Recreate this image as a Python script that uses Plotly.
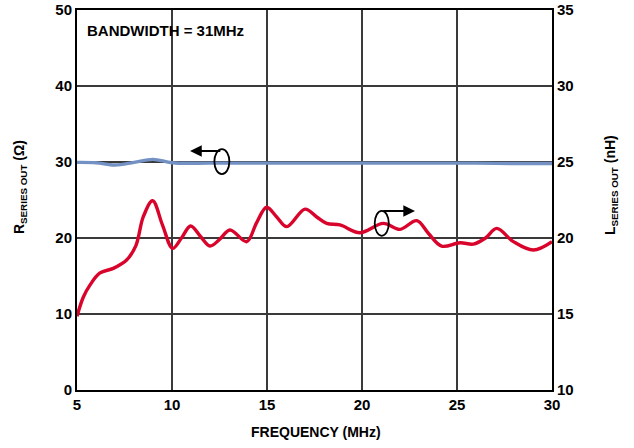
import plotly.graph_objects as go

# R_SERIES OUT (ohm), left axis
freq_r = [5, 6, 7, 8, 9, 10, 12, 14, 16, 18, 20, 22, 24, 26, 28, 30]
r_out = [29.95, 29.9, 29.6, 29.95, 30.35, 29.9, 29.85, 29.85, 29.85, 29.85,
         29.85, 29.85, 29.85, 29.85, 29.8, 29.8]

# L_SERIES OUT (nH), right axis
freq_l = [5.0, 5.33, 5.68, 6.21, 6.91, 7.61, 8.1, 8.49, 8.98, 9.5, 10.03, 10.5,
          10.98, 11.5, 12.0, 12.5, 13.05, 13.93, 14.45, 14.98, 15.5, 16.04, 17.0,
          17.6, 18.14, 18.84, 19.89, 21.12, 22.0, 22.88, 23.5, 24.19, 25.16,
          25.86, 26.5, 27.09, 27.97, 29.02, 30.0]
l_out = [14.85, 16.1, 16.9, 17.7, 18.0, 18.55, 19.5, 21.4, 22.45, 20.85, 19.32, 20.0,
         20.79, 20.1, 19.47, 19.9, 20.53, 19.76, 21.0, 22.02, 21.4, 20.75, 21.9,
         21.4, 20.96, 20.86, 20.35, 20.96, 20.57, 21.14, 20.3, 19.47, 19.69,
         19.6, 20.0, 20.63, 19.76, 19.21, 19.76]

x_ticks = [5, 10, 15, 20, 25, 30]
r_ticks = [0, 10, 20, 30, 40, 50]
l_ticks = [10, 15, 20, 25, 30, 35]

FONT = "Arial, Liberation Sans, sans-serif"
tick_font = dict(family=FONT, size=15, color="black", weight="bold")
title_font = dict(family=FONT, size=14, color="black", weight="bold")

fig = go.Figure()
fig.add_trace(go.Scatter(x=freq_r, y=r_out, mode="lines", yaxis="y",
                         line=dict(color="#7391c2", width=3.4, shape="spline"),
                         showlegend=False))
fig.add_trace(go.Scatter(x=freq_l, y=l_out, mode="lines", yaxis="y2",
                         line=dict(color="#d9042b", width=3.4, shape="spline"),
                         showlegend=False))

axis_common = dict(showgrid=True, gridcolor="#3a3a3a", gridwidth=1.5,
                   showline=True, linecolor="black", linewidth=2,
                   ticks="", zeroline=False, automargin=False,
                   ticklabeloverflow="allow", tickfont=tick_font)

fig.update_layout(
    width=634, height=448,
    margin=dict(l=77, r=82, t=10, b=58),
    plot_bgcolor="white", paper_bgcolor="white",
    xaxis=dict(range=[5, 30], tickvals=x_ticks, mirror=True, **axis_common),
    yaxis=dict(range=[0, 50], tickvals=r_ticks, **axis_common),
    yaxis2=dict(range=[10, 35], tickvals=l_ticks, overlaying="y", side="right",
                **{**axis_common, "showgrid": False}),
)

# axis titles
fig.add_annotation(x=0.503, y=-0.111, xref="paper", yref="paper", showarrow=False,
                   xanchor="center", yanchor="middle",
                   text="FREQUENCY (MHz)", font=title_font)
fig.add_annotation(x=-0.12, y=0.534, xref="paper", yref="paper", showarrow=False,
                   xanchor="center", yanchor="middle", textangle=-90,
                   text="R<sub>SERIES OUT</sub> (Ω)", font=title_font)
fig.add_annotation(x=1.124, y=0.539, xref="paper", yref="paper", showarrow=False,
                   xanchor="center", yanchor="middle", textangle=-90,
                   text="L<sub>SERIES OUT</sub> (nH)", font=title_font)

fig.add_annotation(x=0.017, y=0.947, xref="paper", yref="paper",
                   xanchor="left", yanchor="middle", showarrow=False,
                   text="BANDWIDTH = 31MHz", font=tick_font)

# ovals with direction arrows
fig.add_shape(type="circle", xref="x", yref="y", x0=12.23, x1=13.02, y0=28.4, y1=31.7,
              line=dict(color="black", width=1.8))
fig.add_annotation(x=10.95, y=31.45, ax=12.62, ay=31.45, xref="x", yref="y",
                   axref="x", ayref="y", text="", showarrow=True,
                   arrowhead=2, arrowsize=1.3, arrowwidth=1.8, arrowcolor="black")
fig.add_shape(type="circle", xref="x", yref="y", x0=20.67, x1=21.41, y0=20.29, y1=23.58,
              line=dict(color="black", width=1.8))
fig.add_annotation(x=22.79, y=23.55, ax=21.04, ay=23.55, xref="x", yref="y",
                   axref="x", ayref="y", text="", showarrow=True,
                   arrowhead=2, arrowsize=1.3, arrowwidth=1.8, arrowcolor="black")

# drop the default 8px body margin so the figure sits at the page corner
fig.write_html("out.html", config={"displayModeBar": False},
               post_script="document.body.style.margin = '0';")
